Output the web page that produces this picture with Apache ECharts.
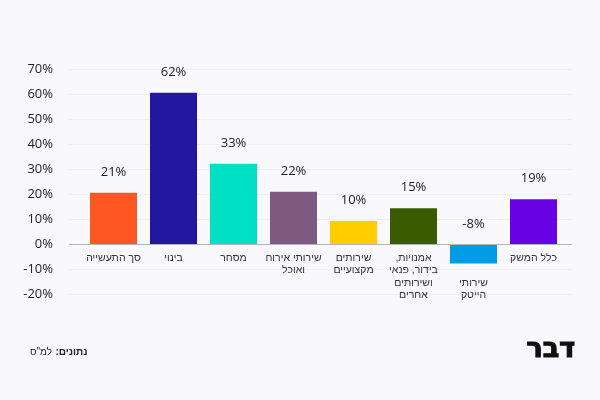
<!DOCTYPE html>
<html>
<head>
<meta charset="utf-8">
<script src="https://cdn.jsdelivr.net/npm/echarts@6/dist/echarts.min.js"></script>
<style>
  html, body { margin: 0; padding: 0; background: #f9f8fd; }
  #chart0 { width: 600px; height: 400px; }
</style>
</head>
<body>
<div id="chart0"></div>
<script>
var categories = [
  'סך התעשייה',
  'בינוי',
  'מסחר',
  'שירותי אירוח\nואוכל',
  'שירותים\nמקצועיים',
  'אמנויות,\u200F\nבידור, פנאי\nושירותים\nאחרים',
  '\n\nשירותי\nהייטק',
  'כלל המשק'
]
var values = [20.7, 60.7, 32.3, 21.1, 9.4, 14.5, -7.6, 18.1]
var valueLabels = ['21%', '62%', '33%', '22%', '10%', '15%', '-8%', '19%']
var colors = ['#fe5722', '#22179f', '#00e0c4', '#7e5a80', '#ffcd00', '#3b5b00', '#009de6', '#6a00e4']
var yTicks = [-20, -10, 0, 10, 20, 30, 40, 50, 60, 70]

;(function () {
  var chart0 = echarts.init(document.getElementById('chart0'))
  var numFont = '"Open Sans", "DejaVu Sans", sans-serif'
  var hebFont = '"Liberation Sans", "DejaVu Sans", sans-serif'
  var yMin = yTicks[0]
  var yMax = yTicks[yTicks.length - 1]

  var option0 = {
    backgroundColor: '#f9f8fd',
    animation: false,
    grid: [
      // gridlines + y labels
      { left: 69, right: 28, top: 69.5, bottom: 105.5 },
      // bars
      { left: 83.5, right: 36.5, top: 69.5, bottom: 105.5 },
      // category labels, bottom edge sits on the 0% line
      { left: 83.5, right: 36.5, top: 69.5, bottom: 155 }
    ],
    xAxis: [{
      gridIndex: 0,
      type: 'category',
      data: ['a'],
      show: false
    }, {
      gridIndex: 1,
      type: 'category',
      data: categories,
      show: false
    }, {
      gridIndex: 2,
      type: 'category',
      data: categories,
      axisTick: { show: false },
      axisLine: { show: false },
      axisLabel: {
        interval: 0,
        margin: 7,
        color: '#333',
        fontSize: 10.5,
        lineHeight: 12.3,
        fontFamily: hebFont,
        verticalAlign: 'top'
      }
    }],
    yAxis: [{
      gridIndex: 0,
      type: 'value',
      min: yMin,
      max: yMax,
      interval: 10,
      axisLine: { show: false },
      axisTick: { show: false },
      axisLabel: {
        margin: 16,
        color: '#222',
        fontSize: 13,
        fontFamily: numFont,
        formatter: '{value}%'
      },
      splitLine: { lineStyle: { color: '#efedf5', width: 1 } }
    }, {
      gridIndex: 1,
      type: 'value',
      min: yMin,
      max: yMax,
      interval: 10,
      show: false
    }, {
      gridIndex: 2,
      type: 'value',
      min: 0,
      max: yMax,
      show: false
    }],
    series: [{
      type: 'line',
      xAxisIndex: 0,
      yAxisIndex: 0,
      data: [],
      markLine: {
        silent: true,
        symbol: 'none',
        label: { show: false },
        lineStyle: { color: '#b4b3b8', width: 1, type: 'solid' },
        data: [{ yAxis: 0 }]
      }
    }, {
      type: 'bar',
      xAxisIndex: 1,
      yAxisIndex: 1,
      barWidth: 47,
      z: 1,
      data: values.map(function (v, i) {
        return { value: v, itemStyle: { color: colors[i] } }
      }),
      label: {
        show: true,
        position: 'top',
        distance: 14,
        color: '#222',
        fontSize: 13,
        fontFamily: numFont,
        formatter: function (p) { return valueLabels[p.dataIndex] }
      }
    }],
    graphic: [{
      type: 'text',
      left: 30,
      top: 346,
      style: {
        text: '{r|למ"ס} {b|נתונים:\u200F}',
        rich: {
          r: { fontSize: 10, fontFamily: hebFont, fill: '#222' },
          b: { fontSize: 10, fontWeight: 'bold', fontFamily: hebFont, fill: '#222' }
        }
      }
    }, {
      type: 'text',
      left: 526,
      top: 336,
      style: {
        text: 'דבר',
        fontSize: 27,
        fontWeight: 'bold',
        fontFamily: '"DejaVu Sans", sans-serif',
        fill: '#111',
        stroke: '#111',
        lineWidth: 1.2
      }
    }]
  }

  chart0.setOption(option0)
})()
</script>
</body>
</html>
